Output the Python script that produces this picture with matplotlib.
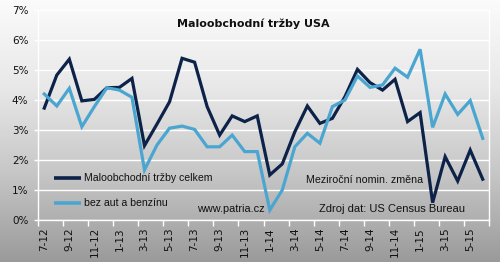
import numpy as np
import matplotlib
matplotlib.use("Agg")
import matplotlib.pyplot as plt
from matplotlib.lines import Line2D
from matplotlib.ticker import FuncFormatter, MultipleLocator

months = ["7-12", "8-12", "9-12", "10-12", "11-12", "12-12",
          "1-13", "2-13", "3-13", "4-13", "5-13", "6-13",
          "7-13", "8-13", "9-13", "10-13", "11-13", "12-13",
          "1-14", "2-14", "3-14", "4-14", "5-14", "6-14",
          "7-14", "8-14", "9-14", "10-14", "11-14", "12-14",
          "1-15", "2-15", "3-15", "4-15", "5-15", "6-15"]

celkem = [3.73, 4.83, 5.36, 3.97, 4.02, 4.41, 4.42, 4.72, 2.48, 3.20, 3.94, 5.39,
          5.26, 3.78, 2.83, 3.47, 3.28, 3.47, 1.50, 1.87, 2.94, 3.80, 3.22, 3.39,
          4.11, 5.02, 4.58, 4.33, 4.69, 3.28, 3.58, 0.58, 2.11, 1.30, 2.33, 1.36]

bez_aut = [4.20, 3.80, 4.39, 3.11, 3.78, 4.41, 4.33, 4.09, 1.67, 2.50, 3.06, 3.13,
           3.02, 2.44, 2.44, 2.83, 2.28, 2.28, 0.33, 1.00, 2.44, 2.89, 2.56, 3.78,
           4.00, 4.80, 4.42, 4.50, 5.06, 4.76, 5.69, 3.09, 4.20, 3.52, 3.98, 2.72]

series_names = ["Maloobchodní tržby celkem", "bez aut a benzínu"]
title = "Maloobchodní tržby USA"

W, H = 500, 262
fig = plt.figure(figsize=(W / 100, H / 100), dpi=100)

# background gradient
bg = fig.add_axes([0, 0, 1, 1], zorder=-10)
grad = np.linspace(0, 1, 256)[:, None]
cmap = matplotlib.colors.LinearSegmentedColormap.from_list(
    "g", ["#fbfbfb", "#e8e8e8", "#c6c6c6", "#9a9a9a"])
bg.imshow(grad, aspect="auto", cmap=cmap, extent=[0, 1, 0, 1], origin="upper")
bg.axis("off")

AX_L, AX_R, AX_T, AX_B = 38, 489, 10, 220
ax = fig.add_axes([AX_L / W, 1 - AX_B / H, (AX_R - AX_L) / W, (AX_B - AX_T) / H])
ax.patch.set_alpha(0)

x = np.arange(len(months))
dark = "#0c2248"
light = "#4aa6d0"
l1, = ax.plot(x, celkem, color=dark, lw=2.3, solid_joinstyle="miter", zorder=3)
l2, = ax.plot(x, bez_aut, color=light, lw=2.3, solid_joinstyle="miter", zorder=4)

ax.set_xlim(-0.5, len(months) - 0.5)
ax.set_ylim(0, 7)
ax.yaxis.set_major_locator(MultipleLocator(1))
ax.yaxis.set_major_formatter(FuncFormatter(lambda v, p: f"{v:.0f}%"))
ax.grid(axis="y", color="white", lw=1.0)
ax.set_axisbelow(True)

for s in ax.spines.values():
    s.set_color("white")
    s.set_linewidth(1.0)

ax.set_xticks(np.arange(-0.5, len(months), 2))
ax.set_xticklabels([])
ax.set_xticks(x[::2], minor=True)
ax.set_xticklabels(months[::2], minor=True, rotation=90, fontsize=7.5,
                   color="#111111")
ax.tick_params(axis="x", which="major", length=4, color="white", width=1)
ax.tick_params(axis="x", which="minor", length=0, pad=5)
ax.tick_params(axis="y", length=3, color="white", width=1, labelsize=7.5,
               labelcolor="#111111", pad=4)


def px(xp, yp):
    return ((xp - AX_L) / (AX_R - AX_L), (AX_B - yp) / (AX_B - AX_T))


ax.text(*px(253.5, 24), title, transform=ax.transAxes, ha="center",
        va="center", fontsize=8, fontweight="bold", color="#111111")

narrow = "Liberation Sans"
# legend drawn inside plot area
for line, name, yp in [(l1, series_names[0], 178), (l2, series_names[1], 202.5)]:
    (x0, y0), (x1, _) = px(54, yp), px(81, yp)
    ax.add_line(Line2D([x0, x1], [y0, y0], transform=ax.transAxes,
                       color=line.get_color(), lw=2.6, solid_capstyle="butt"))
    ax.text(*px(84.5, yp), name, transform=ax.transAxes, ha="left",
            va="center", fontsize=7.6, family=narrow, color="#111111")

ax.text(*px(231, 208.5), "www.patria.cz", transform=ax.transAxes, ha="center",
        va="center", fontsize=7.8, family=narrow, color="#111111")
ax.text(*px(364.5, 180), "Meziroční nomin. změna", transform=ax.transAxes,
        ha="center", va="center", fontsize=7.7, family=narrow, color="#111111")
ax.text(*px(392, 209), "Zdroj dat: US Census Bureau", transform=ax.transAxes,
        ha="center", va="center", fontsize=8.0, family=narrow, color="#111111")

fig.savefig("out.png", dpi=100)
